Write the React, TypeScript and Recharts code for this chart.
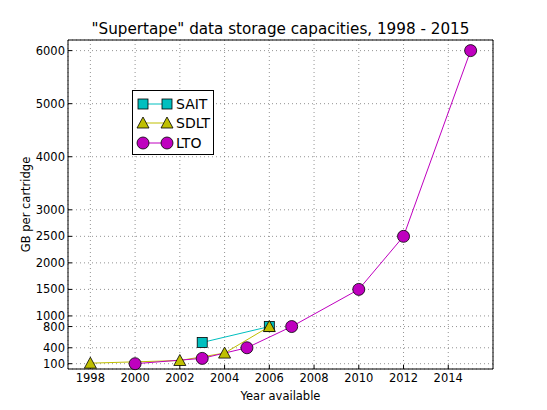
import React from 'react';
import {
  LineChart,
  Line,
  XAxis,
  YAxis,
  CartesianGrid,
} from 'recharts';

const saitYears = [2003, 2006];
const saitGB = [500, 800];
const sdltYears = [1998, 2002, 2004, 2006];
const sdltGB = [110, 160, 300, 800];
const ltoYears = [2000, 2003, 2005, 2007, 2010, 2012, 2015];
const ltoGB = [100, 200, 400, 800, 1500, 2500, 6000];

const xTicks = [1998, 2000, 2002, 2004, 2006, 2008, 2010, 2012, 2014];
const yTicks = [100, 400, 800, 1000, 1500, 2000, 2500, 3000, 4000, 5000, 6000];

const toPoints = (xs: number[], ys: number[]) => xs.map((x, i) => ({ year: x, gb: ys[i] }));

const sait = toPoints(saitYears, saitGB);
const sdlt = toPoints(sdltYears, sdltGB);
const lto = toPoints(ltoYears, ltoGB);

const FONT = '"DejaVu Sans", sans-serif';
const CYAN = '#00bfbf';
const OLIVE = '#bfbf00';
const MAGENTA = '#bf00bf';

const Square = (p: any) => (
  <rect key={p.key} x={p.cx - 5} y={p.cy - 5} width={10} height={10} fill={CYAN} stroke="#000" strokeWidth={0.8} />
);
const Triangle = (p: any) => (
  <polygon
    key={p.key}
    points={`${p.cx},${p.cy - 6} ${p.cx - 6},${p.cy + 5} ${p.cx + 6},${p.cy + 5}`}
    fill={OLIVE}
    stroke="#000"
    strokeWidth={0.8}
  />
);
const Circle = (p: any) => (
  <circle key={p.key} cx={p.cx} cy={p.cy} r={6} fill={MAGENTA} stroke="#000" strokeWidth={0.8} />
);

const tickStyle = { fontSize: 11.5, fontFamily: FONT, fill: '#000' };

const LegendBox = () => (
  <div
    style={{
      position: 'absolute',
      left: 132,
      top: 90,
      width: 80,
      height: 63,
      border: '1px solid #000',
      background: '#fff',
    }}
  >
    <svg width={80} height={63} style={{ position: 'absolute', left: 0, top: 0 }}>
      <line x1={10} x2={34} y1={13} y2={13} stroke={CYAN} />
      <Square cx={10} cy={13} />
      <Square cx={34} cy={13} />
      <line x1={10} x2={34} y1={32} y2={32} stroke={OLIVE} />
      <Triangle cx={10} cy={32} />
      <Triangle cx={34} cy={32} />
      <line x1={10} x2={34} y1={52} y2={52} stroke={MAGENTA} />
      <Circle cx={10} cy={52} />
      <Circle cx={34} cy={52} />
      <text x={43} y={18} fontFamily={FONT} fontSize={14}>SAIT</text>
      <text x={43} y={37} fontFamily={FONT} fontSize={14}>SDLT</text>
      <text x={43} y={57} fontFamily={FONT} fontSize={14}>LTO</text>
    </svg>
  </div>
);

const App = () => {
  return (
    <div style={{ position: 'absolute', left: 0, top: 0, width: 547, height: 410, background: '#fff' }}>
      <div
        style={{
          position: 'absolute',
          left: 68,
          width: 425,
          top: 20,
          textAlign: 'center',
          fontFamily: FONT,
          fontSize: 15.2,
          lineHeight: '18px',
        }}
      >
        "Supertape" data storage capacities, 1998 - 2015
      </div>
      <LineChart
        width={547}
        height={410}
        margin={{ top: 35, right: 49, left: 8, bottom: 1 }}
      >
        <CartesianGrid stroke="#777" strokeDasharray="1 3" strokeWidth={0.8} />
        <XAxis
          dataKey="year"
          type="number"
          domain={[1997, 2016]}
          ticks={xTicks}
          interval={0}
          height={40}
          stroke="#000"
          tickSize={-4}
          tickMargin={9}
          tick={tickStyle}
          label={{ value: 'Year available', position: 'insideBottom', offset: 9, style: { fontSize: 11.5, fontFamily: FONT, fill: '#000' } }}
        />
        <XAxis
          xAxisId="top"
          orientation="top"
          dataKey="year"
          type="number"
          domain={[1997, 2016]}
          ticks={xTicks}
          interval={0}
          height={5}
          stroke="#000"
          tickSize={-4}
          tickFormatter={() => ''}
        />
        <YAxis
          type="number"
          domain={[0, 6200]}
          ticks={yTicks}
          interval={0}
          width={60}
          stroke="#000"
          tickSize={-4}
          tickMargin={7}
          tick={tickStyle}
          label={{ value: 'GB per cartridge', angle: -90, position: 'insideLeft', offset: 18, style: { fontSize: 11.5, fontFamily: FONT, fill: '#000', textAnchor: 'middle' } }}
        />
        <YAxis
          yAxisId="right"
          orientation="right"
          type="number"
          domain={[0, 6200]}
          ticks={yTicks}
          interval={0}
          width={5}
          stroke="#000"
          tickSize={-4}
          tickFormatter={() => ''}
        />
        <Line data={sait} dataKey="gb" stroke={CYAN} strokeWidth={1} dot={Square} isAnimationActive={false} />
        <Line data={sdlt} dataKey="gb" stroke={OLIVE} strokeWidth={1} dot={Triangle} isAnimationActive={false} />
        <Line data={lto} dataKey="gb" stroke={MAGENTA} strokeWidth={1} dot={Circle} isAnimationActive={false} />
      </LineChart>
      <LegendBox />
    </div>
  );
};

export default App;
